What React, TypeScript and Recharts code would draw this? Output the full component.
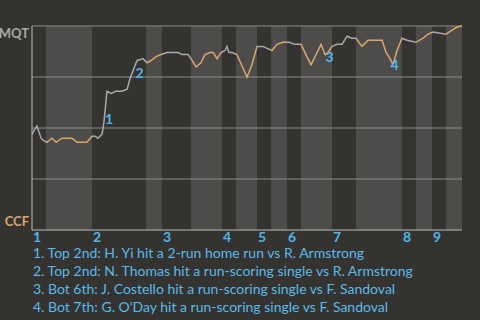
import React from 'react';
import { ComposedChart, Line, XAxis, YAxis, ReferenceArea, ReferenceLine, ReferenceDot } from 'recharts';

// play position along the game (0..184) and MQT win probability (%)
const playX = [
  0, 2.1, 3.9, 4.7, 6.4, 8.6, 10.3, 12.8, 17.1, 19.3, 23.5, 25.7, 27.0, 28.2, 30.0, 30.8, 32.1,
  33.8, 35.9, 38.5, 40.7, 41.9, 44.9, 47.5, 49.2, 50.9, 53.1, 55.2, 57.8, 59.5, 62.5, 64.2,
  66.8, 68.0, 70.2, 72.3, 74.0, 76.2, 77.5, 79.2, 80.9, 82.6, 83.4, 84.3, 85.6, 87.7, 92.0,
  94.1, 96.3, 98.8, 100.6, 102.7, 104.8, 107.4, 110.0, 112.5, 115.1, 117.2, 119.4, 122.0,
  123.7, 125.4, 126.7, 128.4, 130.5, 132.7, 134.8, 136.9, 138.6, 141.2, 143.8, 149.8, 151.5,
  153.2, 154.5, 156.2, 158.3, 160.5, 164.3, 167.3, 169.5, 171.6, 177.2, 179.7, 181.9, 184,
];
const winProb = [
  47, 51, 45, 44, 43, 45, 43, 45, 45, 43, 43, 46, 46, 45, 47, 53, 68,
  67, 68, 68, 69, 74, 83, 84, 82, 83, 85, 86, 87, 87, 87, 86,
  86, 84, 80, 82, 86, 87, 87, 84, 87, 88, 90, 87, 87, 86, 75,
  81, 90, 90, 89, 88, 91, 92, 92, 91, 91, 86, 81, 87,
  91, 86, 87, 90, 91, 91, 95, 94, 94, 90, 93, 93, 87,
  84, 81, 88, 94, 93, 92, 94, 96, 97, 96, 98, 99.5, 100,
];

// half-inning starts (top 1, bot 1, top 2, ...)
const halfStarts = [0, 6, 25.7, 48.8, 55.6, 68, 81.3, 87.3, 96.3, 102.3, 109.1, 115.1, 128.4, 138.6, 158.3, 164.3, 171.2, 177.2];
const gameEnd = 184;
const innings = ['1', '2', '3', '4', '5', '6', '7', '8', '9'];

const eventNums = ['1', '2', '3', '4'];
const eventX = [33, 46, 127.3, 155.1];
const eventP = [54.4, 77, 84.6, 81.1];
const eventText = [
  '1. Top 2nd: H. Yi hit a 2-run home run vs R. Armstrong',
  '2. Top 2nd: N. Thomas hit a run-scoring single vs R. Armstrong',
  '3. Bot 6th: J. Costello hit a run-scoring single vs F. Sandoval',
  '4. Bot 7th: G. O\'Day hit a run-scoring single vs F. Sandoval',
];

const BG = '#353330';
const BAND = '#4d4c4a';
const GREY = '#a4a9ac';
const ORANGE = '#d8a76c';
const BLUE = '#4db6ea';
const FONT = 'Lato, sans-serif';

const data = playX.map((x, i) => ({ x, p: winProb[i] }));
const inningTicks = halfStarts.filter((_, i) => i % 2 === 0);

function XTick(props: any) {
  const { x, y, payload } = props;
  const idx = inningTicks.indexOf(payload.value);
  return (
    <text x={x + 1} y={y + 12} textAnchor="start" fill={BLUE} fontSize={14} fontWeight="bold" fontFamily={FONT}>
      {innings[idx]}
    </text>
  );
}

function YTick(props: any) {
  const { y, payload } = props;
  const top = payload.value === 100;
  return (
    <text x={29} y={top ? y + 12 : y - 4} textAnchor="end" fill={top ? GREY : ORANGE} fontSize={13} fontWeight="bold" fontFamily={FONT}>
      {top ? 'MQT' : 'CCF'}
    </text>
  );
}

export default function App() {
  return (
    <div style={{ position: 'absolute', left: 0, top: 0, width: 480, height: 320, background: BG, fontFamily: FONT }}>
      <ComposedChart width={480} height={250} data={data} margin={{ top: 26, right: 18, left: 0, bottom: 0 }}>
        <defs>
          <linearGradient id="halfGrad" x1="0" y1="0" x2="1" y2="0">
            {halfStarts.map((s, i) => {
              const e = i + 1 < halfStarts.length ? halfStarts[i + 1] : gameEnd;
              const c = i % 2 === 0 ? GREY : ORANGE;
              return [
                <stop key={`a${i}`} offset={s / gameEnd} stopColor={c} />,
                <stop key={`b${i}`} offset={e / gameEnd} stopColor={c} />,
              ];
            })}
          </linearGradient>
        </defs>
        <XAxis
          dataKey="x"
          type="number"
          domain={[0, gameEnd]}
          ticks={inningTicks}
          tick={<XTick />}
          tickLine={false}
          tickSize={0}
          tickMargin={0}
          height={20}
          axisLine={{ stroke: '#bdbdbb' }}
          interval={0}
        />
        <YAxis
          type="number"
          domain={[0, 100]}
          ticks={[0, 100]}
          tick={<YTick />}
          tickLine={false}
          tickSize={0}
          tickMargin={0}
          width={32}
          axisLine={{ stroke: '#bdbdbb' }}
        />
        {halfStarts.map((s, i) => (
          <ReferenceArea
            key={`band-${i}`}
            x1={s}
            x2={i + 1 < halfStarts.length ? halfStarts[i + 1] : gameEnd}
            y1={0}
            y2={100}
            fill={i % 2 === 0 ? BG : BAND}
            fillOpacity={1}
            stroke="none"
          />
        ))}
        {[25, 50, 75, 100].map((v) => (
          <ReferenceLine key={`g-${v}`} y={v} stroke="#8b8a88" strokeWidth={1} />
        ))}
        <Line
          dataKey="p"
          type="linear"
          stroke="url(#halfGrad)"
          strokeWidth={1.5}
          dot={false}
          activeDot={false}
          isAnimationActive={false}
        />
        {eventNums.map((n, i) => (
          <ReferenceDot
            key={`ev-${i}`}
            x={eventX[i]}
            y={eventP[i]}
            r={0}
            stroke="none"
            label={{ value: n, position: 'center', fill: BLUE, fontSize: 14, fontWeight: 'bold', fontFamily: FONT }}
          />
        ))}
      </ComposedChart>
      <div style={{ position: 'absolute', left: 33, top: 244, color: '#5bb9e9', fontSize: 14, lineHeight: '18px' }}>
        {eventText.map((t, i) => (
          <div key={i}>{t}</div>
        ))}
      </div>
    </div>
  );
}
